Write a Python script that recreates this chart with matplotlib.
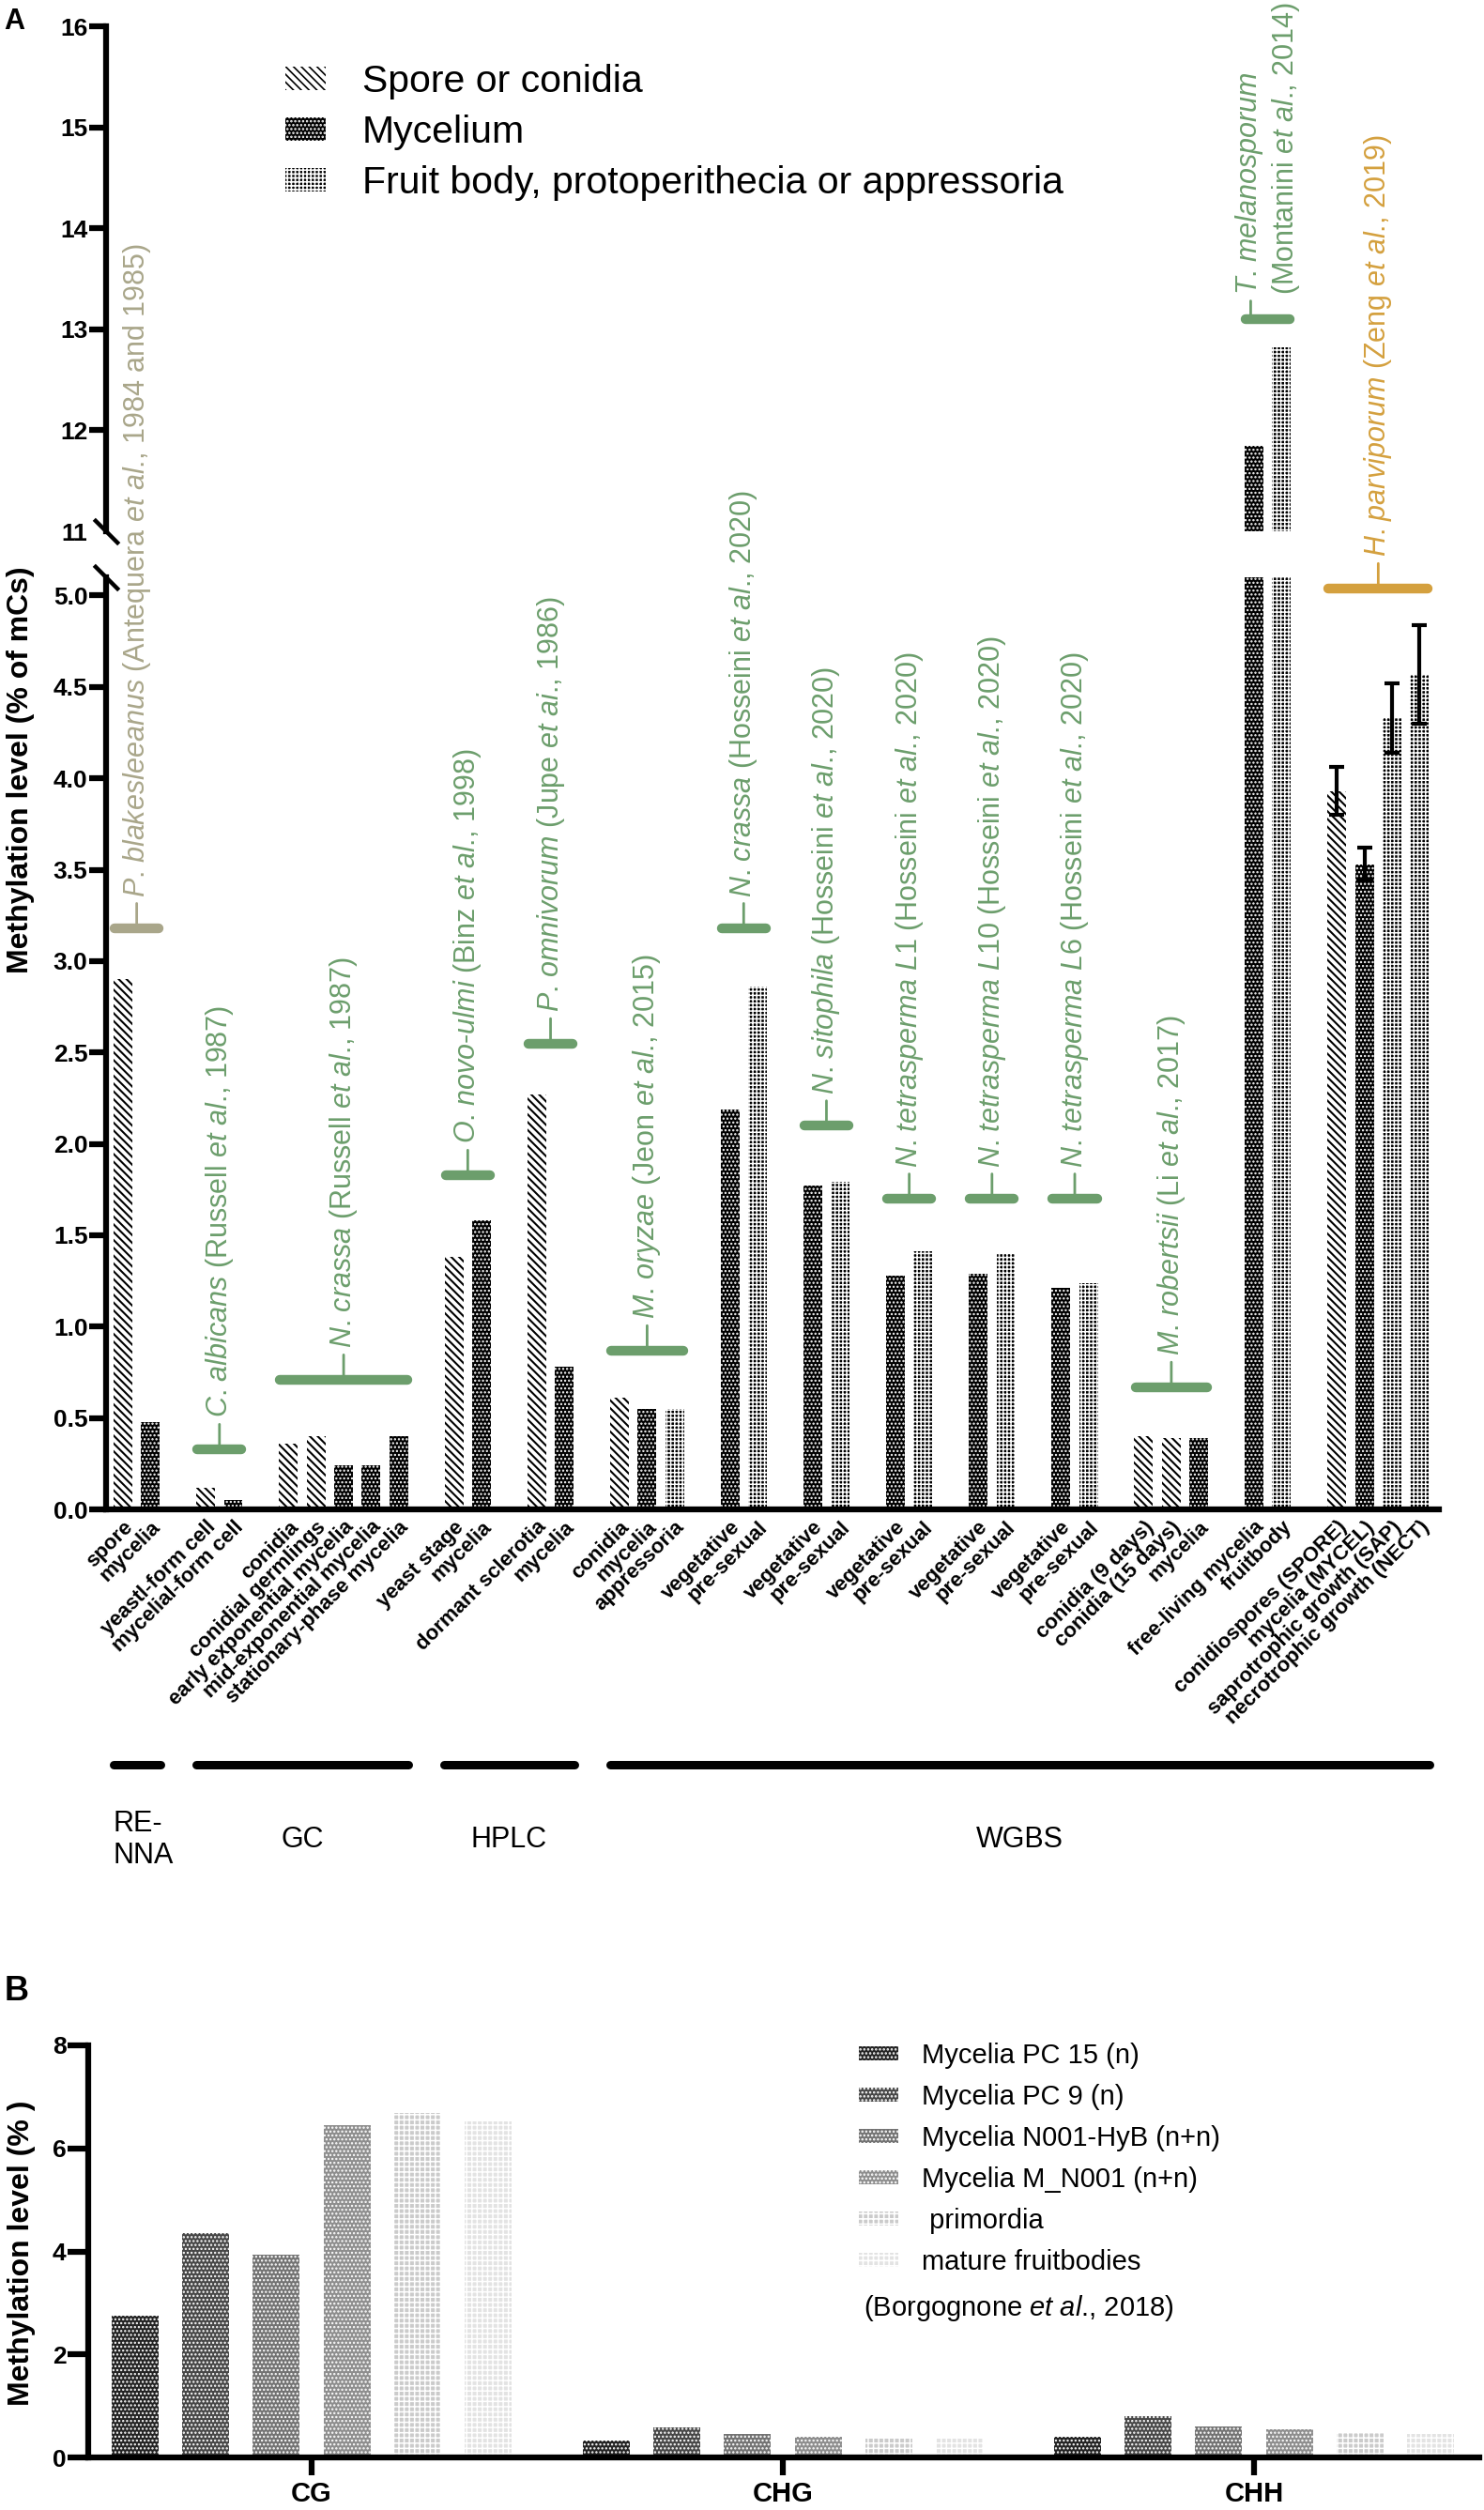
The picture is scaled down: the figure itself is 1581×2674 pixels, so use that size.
import matplotlib
matplotlib.use('Agg')
import matplotlib.pyplot as plt
import matplotlib.transforms as mtransforms
from matplotlib.patches import Patch

plt.rcParams['font.family'] = ['Liberation Sans', 'DejaVu Sans']
plt.rcParams['mathtext.fontset'] = 'custom'
plt.rcParams['mathtext.rm'] = 'Liberation Sans'
plt.rcParams['mathtext.it'] = 'Liberation Sans:italic'
plt.rcParams['mathtext.bf'] = 'Liberation Sans:bold'
plt.rcParams['hatch.linewidth'] = 1.2

W, H = 1581, 2674
DPI = 100

# ---------------- Panel A data ----------------
sample_labels = [
    'spore', 'mycelia',
    'yeastl-form cell', 'mycelial-form cell',
    'conidia', 'conidial germlings', 'early exponential mycelia',
    'mid-exponential mycelia', 'stationary-phase mycelia',
    'yeast stage', 'mycelia',
    'dormant sclerotia', 'mycelia',
    'conidia', 'mycelia', 'appressoria',
    'vegetative', 'pre-sexual',
    'vegetative', 'pre-sexual',
    'vegetative', 'pre-sexual',
    'vegetative', 'pre-sexual',
    'vegetative', 'pre-sexual',
    'conidia (9 days)', 'conidia (15 days)', 'mycelia',
    'free-living mycelia', 'fruitbody',
    'conidiospores (SPORE)', 'mycelia (MYCEL)', 'saprotrophic growth (SAP)',
    'necrotrophic growth (NECT)',
]
methylation = [
    2.90, 0.48,
    0.12, 0.05,
    0.36, 0.40, 0.24, 0.24, 0.40,
    1.38, 1.58,
    2.27, 0.78,
    0.61, 0.55, 0.55,
    2.19, 2.86,
    1.77, 1.79,
    1.28, 1.41,
    1.29, 1.40,
    1.21, 1.24,
    0.40, 0.39, 0.39,
    11.85, 12.82,
    3.93, 3.53, 4.33, 4.57,
]
# s = spore or conidia, m = mycelium, f = fruit body / protoperithecia / appressoria
tissue = [
    's', 'm',
    's', 'm',
    's', 's', 'm', 'm', 'm',
    's', 'm',
    's', 'm',
    's', 'm', 'f',
    'm', 'f',
    'm', 'f',
    'm', 'f',
    'm', 'f',
    'm', 'f',
    's', 's', 'm',
    'm', 'f',
    's', 'm', 'f', 'f',
]
group_sizes = [2, 2, 5, 2, 2, 3, 2, 2, 2, 2, 2, 3, 2, 4]
hp_errors = [0.13, 0.09, 0.19, 0.27]

species_labels = [
    r'$\mathit{P}$. $\mathit{blakesleeanus}$ (Antequera $\mathit{et\ al}$., 1984 and 1985)',
    r'$\mathit{C}$. $\mathit{albicans}$ (Russell $\mathit{et\ al}$., 1987)',
    r'$\mathit{N}$. $\mathit{crassa}$ (Russell $\mathit{et\ al}$., 1987)',
    r'$\mathit{O}$. $\mathit{novo}$-$\mathit{ulmi}$ (Binz $\mathit{et\ al}$., 1998)',
    r'$\mathit{P}$. $\mathit{omnivorum}$ (Jupe $\mathit{et\ ai}$., 1986)',
    r'$\mathit{M}$. $\mathit{oryzae}$ (Jeon $\mathit{et\ al}$., 2015)',
    r'$\mathit{N}$. $\mathit{crassa}$ (Hosseini $\mathit{et\ al}$., 2020)',
    r'$\mathit{N}$. $\mathit{sitophila}$ (Hosseini $\mathit{et\ al}$., 2020)',
    r'$\mathit{N}$. $\mathit{tetrasperma\ L1}$ (Hosseini $\mathit{et\ al}$., 2020)',
    r'$\mathit{N}$. $\mathit{tetrasperma\ L10}$ (Hosseini $\mathit{et\ al}$., 2020)',
    r'$\mathit{N}$. $\mathit{tetrasperma\ L6}$ (Hosseini $\mathit{et\ al}$., 2020)',
    r'$\mathit{M}$. $\mathit{robertsii}$ (Li $\mathit{et\ al}$., 2017)',
    r'$\mathit{T}$. $\mathit{melanosporum}$' + '\n' + r'(Montanini $\mathit{et\ al}$., 2014)',
    r'$\mathit{H}$. $\mathit{parviporum}$ (Zeng $\mathit{et\ al}$., 2019)',
]
species_level = [3.18, 0.33, 0.71, 1.83, 2.55, 0.87, 3.18, 2.10, 1.70, 1.70, 1.70, 0.67, 13.1, 5.04]
TAN, GREEN, ORANGE = '#a9a68a', '#6c9e6c', '#d4a03e'
species_colors = [TAN] + [GREEN] * 12 + [ORANGE]

method_names = ['RE-\nNNA', 'GC', 'HPLC', 'WGBS']
method_groups = [(0, 0), (1, 2), (3, 4), (5, 13)]

# ---------------- Panel B data ----------------
contexts = ['CG', 'CHG', 'CHH']
b_series = ['Mycelia PC 15 (n)', 'Mycelia PC 9 (n)', 'Mycelia N001-HyB (n+n)',
            'Mycelia M_N001 (n+n)', ' primordia', 'mature fruitbodies']
b_values = [
    [2.75, 0.33, 0.40],
    [4.35, 0.58, 0.80],
    [3.93, 0.46, 0.61],
    [6.46, 0.41, 0.55],
    [6.68, 0.38, 0.50],
    [6.52, 0.36, 0.46],
]
b_colors = ['#232323', '#474747', '#737373', '#8e8e8e', '#cbcbcb', '#e3e3e3']
b_hatches = ['....', '....', '....', '....', '+++', '+++']


def axes_rect(left, top, right, bottom):
    return [left / W, 1 - bottom / H, (right - left) / W, (bottom - top) / H]


def hatch_lw(patch, lw):
    if hasattr(patch, 'set_hatch_linewidth'):
        patch.set_hatch_linewidth(lw)


# bar positions: one empty slot between groups
positions, bar_group = [], []
i = 0
for g, n in enumerate(group_sizes):
    for _ in range(n):
        positions.append(i + g)
        bar_group.append(g)
        i += 1
group_first = [positions[bar_group.index(g)] for g in range(len(group_sizes))]
group_last = [positions[len(bar_group) - 1 - bar_group[::-1].index(g)] for g in range(len(group_sizes))]

styles = {
    's': dict(facecolor='white', edgecolor='black', hatch='\\\\\\\\'),
    'm': dict(facecolor='black', edgecolor='white', hatch='....'),
    'f': dict(facecolor='black', edgecolor='white', hatch='++++'),
}
style_lw = {'s': 1.5, 'm': 1.1, 'f': 1.1}

fig = plt.figure(figsize=(W / DPI, H / DPI), dpi=DPI)
ax_top = fig.add_axes(axes_rect(113, 28, 1533, 566))
ax_bot = fig.add_axes(axes_rect(113, 615, 1533, 1608))

for ax in (ax_top, ax_bot):
    ax.set_facecolor('none')
    for x, v, t in zip(positions, methylation, tissue):
        bars = ax.bar(x, v, width=0.68, linewidth=0, **styles[t])
        hatch_lw(bars[0], style_lw[t])
    ax.set_xlim(-0.61, 47.7)
    for s in ('top', 'right'):
        ax.spines[s].set_visible(False)
    ax.spines['left'].set_linewidth(4.5)
    ax.spines['bottom'].set_linewidth(4.5)
    ax.tick_params(axis='y', length=13, width=4.5, labelsize=19, pad=1)

ax_top.set_ylim(11, 16)
ax_bot.set_ylim(0, 5.1)
ax_top.spines['bottom'].set_visible(False)
ax_top.set_xticks([])

top_ticks = [11, 12, 13, 14, 15, 16]
ax_top.set_yticks(top_ticks)
ax_top.set_yticklabels([str(t) for t in top_ticks], fontweight='bold')
ax_top.yaxis.get_major_ticks()[0].tick1line.set_visible(False)

bot_ticks = [k * 0.5 for k in range(11)]
ax_bot.set_yticks(bot_ticks)
ax_bot.set_yticklabels([f'{t:.1f}' for t in bot_ticks], fontweight='bold')

ax_bot.set_xticks(positions)
ax_bot.set_xticklabels(sample_labels, rotation=45, ha='right', rotation_mode='anchor',
                       fontsize=16, fontweight='bold')
ax_bot.tick_params(axis='x', length=0, pad=6)

# axis break marks
ax_top.plot([0], [0], transform=ax_top.transAxes, marker=[(-1, 1), (1, -1)],
            markersize=19, markeredgewidth=3.2, color='black', clip_on=False)
ax_bot.plot([0], [1], transform=ax_bot.transAxes, marker=[(-1, 1), (1, -1)],
            markersize=19, markeredgewidth=3.2, color='black', clip_on=False)

# error bars for H. parviporum
ax_bot.errorbar(positions[-4:], methylation[-4:], yerr=hp_errors, fmt='none',
                ecolor='black', elinewidth=3, capsize=5.5, capthick=3)

# species annotations
for g, (txt, lvl, col) in enumerate(zip(species_labels, species_level, species_colors)):
    ax = ax_top if lvl > 11 else ax_bot
    x0, x1 = group_first[g] - 0.3, group_last[g] + 0.3
    xc = (x0 + x1) / 2
    ax.plot([x0, x1], [lvl, lvl], color=col, lw=7.5, solid_capstyle='round', clip_on=False)
    nlines = txt.count('\n') + 1
    dx = -(nlines - 1) * 0.5 * 1.2 * 22
    rise = 24 if nlines == 1 else 19
    # short vertical tick under the first text line
    shifted = ax.transData + mtransforms.ScaledTranslation(dx / 72, 0, fig.dpi_scale_trans)
    ax.annotate('', xy=(xc, lvl), xycoords=shifted, xytext=(0, rise - 5),
                textcoords='offset points',
                arrowprops=dict(arrowstyle='-', color=col, lw=2, shrinkA=0, shrinkB=0))
    ax.annotate(txt, xy=(xc, lvl), xytext=(0, rise), textcoords='offset points', rotation=90,
                rotation_mode='anchor', ha='left', va='center', color=col, fontsize=22,
                multialignment='left')

# measurement methods
trans_m = mtransforms.blended_transform_factory(ax_bot.transData, fig.transFigure)
y_line = 1 - 1880 / H
y_text = 1 - 1960 / H
for name, (g0, g1) in zip(method_names, method_groups):
    x0, x1 = group_first[g0] - 0.35, group_last[g1] + 0.35
    ax_bot.plot([x0, x1], [y_line, y_line], transform=trans_m, color='black', lw=6.5,
                solid_capstyle='round', clip_on=False)
    if '\n' in name:
        ax_bot.text(x0, y_text, name, transform=trans_m, ha='left', va='center', fontsize=22)
    else:
        ax_bot.text((x0 + x1) / 2, y_text, name, transform=trans_m, ha='center', va='center',
                    fontsize=22)

handles_a = []
for t, lab in zip(['s', 'm', 'f'], ['Spore or conidia', 'Mycelium',
                                    'Fruit body, protoperithecia or appressoria']):
    p = Patch(label=lab, linewidth=0, **styles[t])
    hatch_lw(p, style_lw[t])
    handles_a.append(p)
fig.legend(handles=handles_a, loc='upper left', bbox_to_anchor=(304 / W, 1 - 68 / H),
           frameon=False, fontsize=29.5, handlelength=1.05, handleheight=0.55,
           handletextpad=0.95, labelspacing=0.39, borderpad=0, borderaxespad=0)

fig.text(4 / W, 1 - 8 / H, 'A', ha='left', va='top', fontsize=22, fontweight='bold')
fig.text(22 / W, 1 - 820 / H, 'Methylation level (% of mCs)', rotation=90, ha='center',
         va='center', fontsize=23, fontweight='bold')

# ---------------- Panel B ----------------
ax_b = fig.add_axes(axes_rect(94, 2179, 1576, 2618))
xs = list(range(len(contexts)))
for j, (lab, vals, c, h) in enumerate(zip(b_series, b_values, b_colors, b_hatches)):
    bars = ax_b.bar([x + (j - 2.5) * 0.15 for x in xs], vals, width=0.1, facecolor=c,
                    edgecolor='white', hatch=h, linewidth=0, label=lab)
    for b in bars:
        hatch_lw(b, 1.1)
ax_b.set_xlim(-0.474, 2.478)
ax_b.set_ylim(0, 8)
ax_b.set_yticks([0, 2, 4, 6, 8])
ax_b.set_yticklabels(['0', '2', '4', '6', '8'], fontweight='bold')
ax_b.set_xticks(xs)
ax_b.set_xticklabels(contexts, fontweight='bold', fontsize=21)
for s in ('top', 'right'):
    ax_b.spines[s].set_visible(False)
ax_b.spines['left'].set_linewidth(4.5)
ax_b.spines['bottom'].set_linewidth(4.5)
ax_b.tick_params(axis='y', length=16, width=4.5, labelsize=19, pad=1)
ax_b.tick_params(axis='x', length=14, width=4.5, pad=4)

fig.legend(handles=ax_b.get_legend_handles_labels()[0], loc='upper left',
           bbox_to_anchor=(915 / W, 1 - 2176 / H), frameon=False, fontsize=21,
           handlelength=1.45, handleheight=0.42, handletextpad=0.85, labelspacing=0.55,
           borderpad=0, borderaxespad=0)
fig.text(920 / W, 1 - 2459 / H, r'(Borgognone $\mathit{et\ al}$., 2018)', ha='left',
         va='center', fontsize=21)

fig.text(5 / W, 1 - 2104 / H, 'B', ha='left', va='top', fontsize=26, fontweight='bold')
fig.text(23 / W, 1 - 2400 / H, 'Methylation level (% )', rotation=90, ha='center',
         va='center', fontsize=23, fontweight='bold')

fig.savefig('out.png', dpi=DPI)
